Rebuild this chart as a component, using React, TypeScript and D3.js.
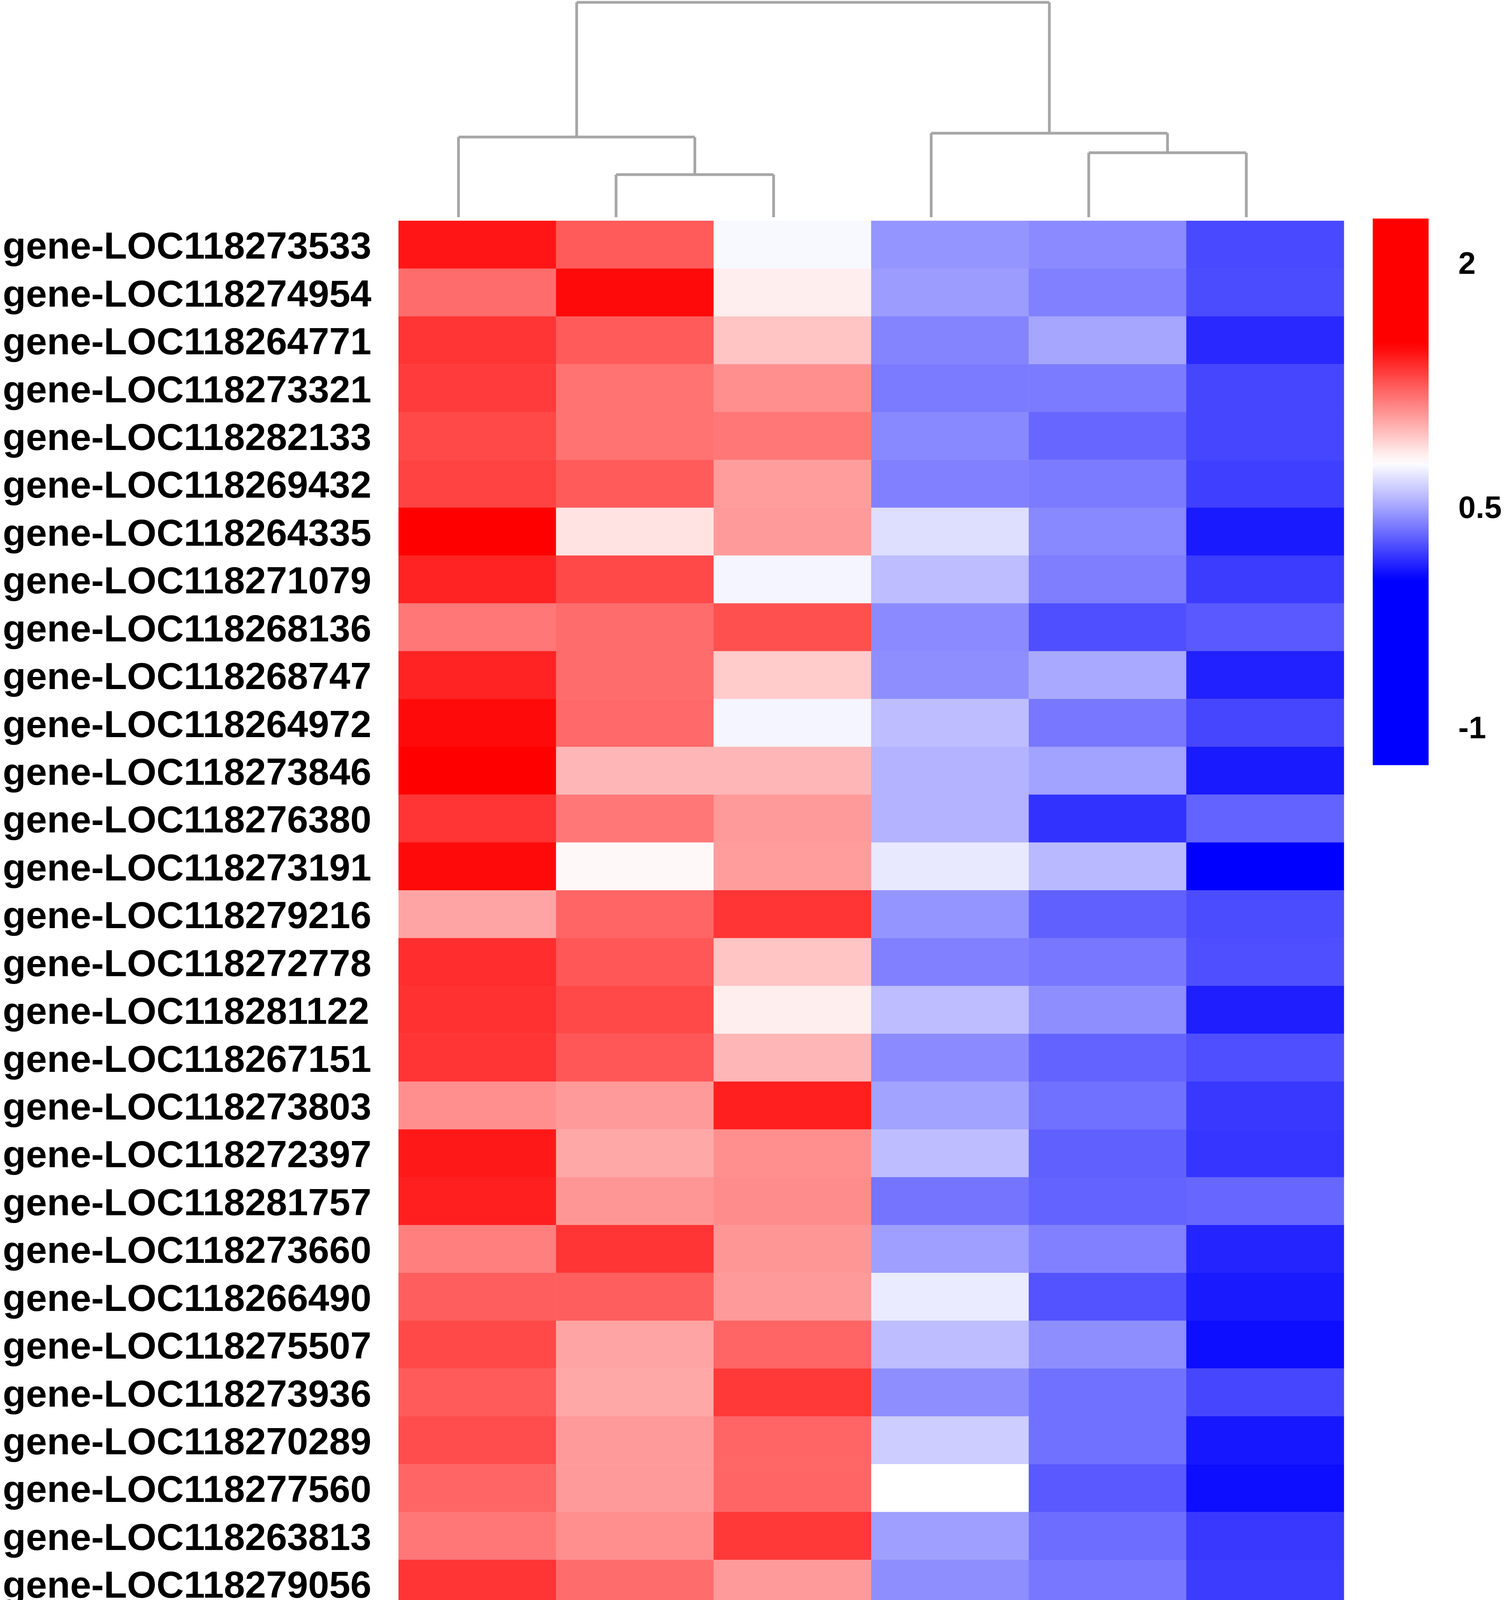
import * as d3 from "d3";
import { useEffect } from "react";

// rows of the heatmap, top to bottom
const genes = [
  "gene-LOC118273533", "gene-LOC118274954", "gene-LOC118264771", "gene-LOC118273321",
  "gene-LOC118282133", "gene-LOC118269432", "gene-LOC118264335", "gene-LOC118271079",
  "gene-LOC118268136", "gene-LOC118268747", "gene-LOC118264972", "gene-LOC118273846",
  "gene-LOC118276380", "gene-LOC118273191", "gene-LOC118279216", "gene-LOC118272778",
  "gene-LOC118281122", "gene-LOC118267151", "gene-LOC118273803", "gene-LOC118272397",
  "gene-LOC118281757", "gene-LOC118273660", "gene-LOC118266490", "gene-LOC118275507",
  "gene-LOC118273936", "gene-LOC118270289", "gene-LOC118277560", "gene-LOC118263813",
  "gene-LOC118279056", "gene-LOC118276135", "gene-LOC118268755", "gene-LOC118270050",
  "gene-LOC118277362", "gene-LOC118275885", "gene-LOC118264342",
];

const samples = ["Control_1", "Control_2", "Control_3", "Antibiotics_1", "Antibiotics_2", "Antibiotics_3"];
const sampleGroup = ["Control", "Control", "Control", "Antibiotics", "Antibiotics", "Antibiotics"];
const groups = ["Control", "Antibiotics"];

// values per sample (same order as genes)
const control1 = [1.44, 1.19, 1.35, 1.33, 1.29, 1.31, 1.62, 1.40, 1.16, 1.40, 1.47, 1.65, 1.35, 1.47, 1.03, 1.37, 1.36, 1.35, 1.09, 1.43, 1.41, 1.14, 1.23, 1.29, 1.24, 1.28, 1.21, 1.16, 1.35, 1.38, 1.34, 1.37, 1.32, 1.42, 1.45];
const control2 = [1.24, 1.47, 1.24, 1.17, 1.17, 1.24, 0.85, 1.29, 1.19, 1.19, 1.20, 0.98, 1.16, 0.79, 1.21, 1.25, 1.29, 1.25, 1.06, 1.02, 1.07, 1.35, 1.23, 1.03, 1.02, 1.06, 1.06, 1.09, 1.19, 1.10, 1.26, 1.19, 1.41, 1.17, 0.86];
const control3 = [0.75, 0.82, 0.94, 1.09, 1.16, 1.05, 1.06, 0.74, 1.27, 0.92, 0.74, 0.98, 1.06, 1.05, 1.35, 0.94, 0.82, 0.98, 1.41, 1.09, 1.10, 1.07, 1.06, 1.21, 1.34, 1.21, 1.21, 1.34, 1.06, 1.10, 0.97, 1.04, 0.60, 0.83, 1.10];
const antibiotics1 = [0.45, 0.47, 0.40, 0.37, 0.41, 0.39, 0.67, 0.57, 0.42, 0.43, 0.57, 0.54, 0.54, 0.70, 0.45, 0.39, 0.57, 0.42, 0.49, 0.57, 0.35, 0.48, 0.71, 0.57, 0.43, 0.62, 0.77, 0.48, 0.43, 0.43, 0.36, 0.39, 0.58, 0.68, 0.66];
const antibiotics2 = [0.42, 0.39, 0.50, 0.37, 0.31, 0.37, 0.41, 0.38, 0.24, 0.51, 0.36, 0.49, 0.15, 0.56, 0.29, 0.36, 0.43, 0.30, 0.34, 0.29, 0.30, 0.39, 0.25, 0.43, 0.34, 0.34, 0.27, 0.33, 0.36, 0.28, 0.37, 0.35, 0.47, 0.39, 0.33];
const antibiotics3 = [0.22, 0.23, 0.12, 0.21, 0.21, 0.19, 0.08, 0.18, 0.27, 0.10, 0.21, 0.08, 0.30, -0.10, 0.23, 0.24, 0.09, 0.24, 0.17, 0.16, 0.31, 0.11, 0.08, 0.04, 0.21, 0.07, 0.04, 0.17, 0.18, 0.26, 0.23, 0.22, 0.16, 0.06, 0.13];

const legendTicks = [2, 0.5, -1];

// column clustering, heights relative to root
const colTree = {
  height: 1,
  children: [
    { height: 0.373, children: [{ leaf: 0 }, { height: 0.198, children: [{ leaf: 1 }, { leaf: 2 }] }] },
    { height: 0.391, children: [{ leaf: 3 }, { height: 0.3, children: [{ leaf: 4 }, { leaf: 5 }] }] },
  ],
};

export default function App() {
  const W = 3850;
  const H = 4972;
  const font = "'Liberation Sans', Arial, sans-serif";

  useEffect(() => {
    document.body.style.margin = "0";
  }, []);

  const values = [control1, control2, control3, antibiotics1, antibiotics2, antibiotics3];

  const x = d3.scaleBand().domain(samples).range([1020, 3440]);
  const y = d3.scaleBand().domain(genes).range([565, 4850]);
  const color = d3
    .scaleLinear<string>()
    .domain([0, 0.77, 1.5])
    .range(["#0000ff", "#ffffff", "#ff0000"])
    .clamp(true);

  const cells = genes.flatMap((g, i) => samples.map((s, j) => ({ g, s, v: values[j][i] })));

  // dendrogram
  const dy = d3.scaleLinear().domain([0, 1]).range([556, 6]);
  const root: any = d3.hierarchy(colTree as any);
  root.eachAfter((n: any) => {
    if (!n.children) n.px = (x(samples[n.data.leaf]) as number) + x.bandwidth() / 2 - 48;
    else n.px = d3.mean(n.children, (c: any) => c.px);
  });
  const segs: { x1: number; y1: number; x2: number; y2: number }[] = [];
  root.each((n: any) => {
    if (!n.children) return;
    const yy = dy(n.data.height);
    segs.push({ x1: n.children[0].px, y1: yy, x2: n.children[1].px, y2: yy });
    n.children.forEach((c: any) => {
      segs.push({ x1: c.px, y1: dy(c.data.height ?? 0), x2: c.px, y2: yy });
    });
  });

  // legend
  const ly = d3.scaleLinear().domain([2, 0.5, -1]).range([672, 1297, 1861]);
  const lTop = ly(2.27);
  const lBot = ly(-1.26);
  const stops = d3.range(0, 81).map((i) => {
    const yy = lTop + ((lBot - lTop) * i) / 80;
    return { off: i / 80, c: color(ly.invert(yy)) };
  });

  return (
    <svg width={W} height={H} style={{ display: "block", background: "#fff" }}>
      <defs>
        <linearGradient id="lg" x1="0" y1="0" x2="0" y2="1">
          {stops.map((s, i) => (
            <stop key={i} offset={s.off} stopColor={s.c} />
          ))}
        </linearGradient>
      </defs>
      <rect width={W} height={H} fill="#fff" />
      <g>
        {cells.map((d, i) => (
          <rect
            key={i}
            x={x(d.s)}
            y={y(d.g)}
            width={x.bandwidth() + 0.5}
            height={y.bandwidth() + 0.5}
            fill={color(d.v)}
          />
        ))}
      </g>
      <g stroke="#a6a6a6" strokeWidth={7} fill="none">
        {segs.map((s, i) => (
          <line key={i} x1={s.x1} y1={s.y1} x2={s.x2} y2={s.y2} />
        ))}
      </g>
      <g fontFamily={font} fontWeight="bold" fontSize={97} fill="#000">
        {genes.map((g) => (
          <text key={g} x={7} y={(y(g) as number) + y.bandwidth() / 2 + 36}>
            {g}
          </text>
        ))}
        {groups.map((gr) => {
          const cx = d3.mean(
            samples.filter((_, i) => sampleGroup[i] === gr),
            (s) => (x(s) as number) + x.bandwidth() / 2
          ) as number;
          return (
            <text key={gr} x={cx} y={4962} textAnchor="middle">
              {gr}
            </text>
          );
        })}
      </g>
      <rect x={3514} y={lTop} width={143} height={lBot - lTop} fill="url(#lg)" />
      <g fontFamily={font} fontWeight="bold" fontSize={80} fill="#000">
        {legendTicks.map((t) => (
          <text key={t} x={3733} y={ly(t) + 29}>
            {t}
          </text>
        ))}
      </g>
    </svg>
  );
}
